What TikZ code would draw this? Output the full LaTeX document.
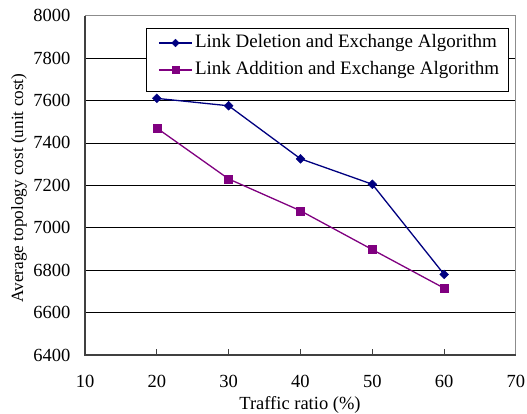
\documentclass[tikz,border=0pt]{standalone}
\usepackage{fontspec}
\setmainfont{Liberation Serif}
\usetikzlibrary{shapes.geometric,calc}
\definecolor{delcol}{RGB}{0,0,128}
\definecolor{addcol}{RGB}{128,0,128}
\tikzset{
  lbl/.style={font=\fontsize{18.5}{20}\selectfont, inner sep=0pt},
  leglbl/.style={font=\fontsize{19}{21}\selectfont, inner sep=0pt},
  grid line/.style={black, line width=0.8pt},
  axis line/.style={black!75, line width=1.6pt},
  frame line/.style={black!45, line width=1pt},
  delline/.style={delcol, line width=1.3pt},
  addline/.style={addcol, line width=1.3pt},
  delmark/.style={diamond, fill=delcol, draw=delcol, inner sep=0pt, minimum size=9pt},
  addmark/.style={rectangle, fill=addcol, draw=addcol, inner sep=0pt, minimum size=8pt},
}
\begin{document}
\begin{tikzpicture}[x=1pt,y=1pt]
\useasboundingbox (0,0) rectangle (527,413);
\fill[white] (0,0) rectangle (527,413);
% plot area: x from 10 to 70, y from 6400 to 8000
\begin{scope}[shift={(85,58)}, x=7.183pt, y=0.2121pt]
  % horizontal grid lines
  \foreach \v in {200,400,...,1400}
    \draw[grid line] (0,\v) -- (60,\v);
  % frame top and right
  \draw[frame line] (0,1600) -- (60,1600) -- (60,0);
  % axes
  \draw[axis line] (0,1600) -- (0,0) -- (60,0);
  % x ticks
  \foreach \t in {10,20,...,50}
    \draw[black!75, line width=1pt] (\t,0) -- ++(0,26);
  % y tick labels
  \foreach \v in {6400,6600,...,8000}
    \node[lbl, anchor=east] at (-2,{\v-6400}) {\v};
  % x tick labels
  \foreach \t in {10,20,...,70}
    \node[lbl] at ({\t-10},-126) {\t};

  % legend
  \node[draw=black, line width=0.8pt, fill=white, minimum width=361.7pt, minimum height=62.7pt, inner sep=0pt] (legend) at (33.7,1392) {};
  \coordinate (la1) at (10.3,1471);
  \coordinate (lb1) at (14.9,1471);
  \coordinate (la2) at (10.3,1344);
  \coordinate (lb2) at (14.9,1344);
  \draw[delline] (la1) -- (lb1);
  \node[delmark, minimum size=8pt] (lm1) at ($(la1)!0.5!(lb1)$) {};
  \draw[addline] (la2) -- (lb2);
  \node[addmark, minimum size=7.5pt] (lm2) at ($(la2)!0.5!(lb2)$) {};
  \node[leglbl, anchor=west] (lt1) at (15.3,1471) {Link Deletion and Exchange Algorithm};
  \node[leglbl, anchor=west] (lt2) at (15.3,1344) {Link Addition and Exchange Algorithm};

  % series: link addition
  \node[addmark] (a1) at (10,1070) {};
  \node[addmark] (a2) at (20,830) {};
  \node[addmark] (a3) at (30,680) {};
  \node[addmark] (a4) at (40,497) {};
  \node[addmark] (a5) at (50,315) {};
  \draw[addline] (a1.center) -- (a2.center) -- (a3.center) -- (a4.center) -- (a5.center);
  % series: link deletion
  \node[delmark] (d1) at (10,1210) {};
  \node[delmark] (d2) at (20,1175) {};
  \node[delmark] (d3) at (30,925) {};
  \node[delmark] (d4) at (40,805) {};
  \node[delmark] (d5) at (50,380) {};
  \draw[delline] (d1.center) -- (d2.center) -- (d3.center) -- (d4.center) -- (d5.center);
\end{scope}
% axis titles
\node[lbl] (xtitle) at (300,8) {Traffic ratio (\%)};
\node[font=\fontsize{17.2}{19}\selectfont, inner sep=0pt, rotate=90] (ytitle) at (19,225) {Average topology cost (unit cost)};
\end{tikzpicture}
\end{document}
